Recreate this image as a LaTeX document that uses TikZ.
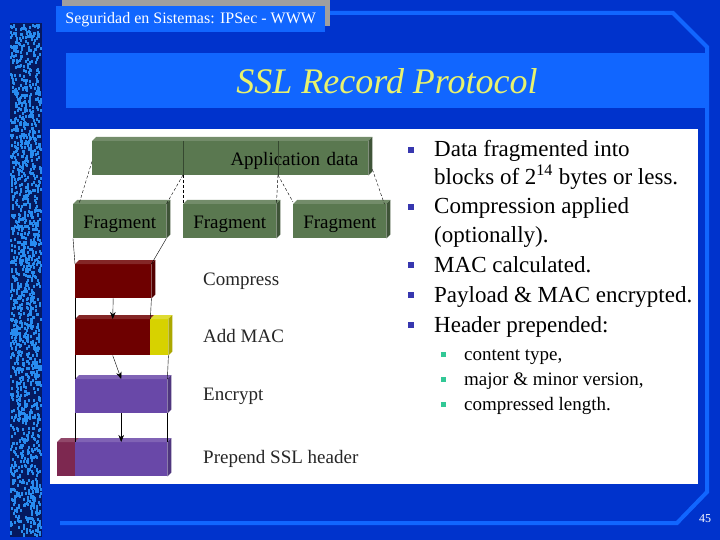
\documentclass[tikz,border=0pt]{standalone}
\usepackage{fontspec}
\setmainfont{Liberation Serif}
\usetikzlibrary{calc,arrows.meta,positioning}

\definecolor{slide}{RGB}{0,51,204}
\definecolor{band}{RGB}{17,102,255}
\definecolor{navy}{RGB}{5,25,95}
\definecolor{speck}{RGB}{40,140,240}
\definecolor{titletext}{RGB}{232,242,110}
\definecolor{fragcol}{RGB}{90,120,80}
\definecolor{compcol}{RGB}{110,0,0}
\definecolor{maccol}{RGB}{215,210,0}
\definecolor{enccol}{RGB}{105,72,168}
\definecolor{hdrcol}{RGB}{125,40,80}
\definecolor{bulletcol}{RGB}{55,55,175}
\definecolor{subcol}{RGB}{50,200,150}

% extruded faces of the 3D blocks
\newcommand{\topface}[2]{\fill[#2] (#1.north west) -- ++(4,-4) -- ($(#1.north east)+(4,-4)$) -- (#1.north east) -- cycle;}
\newcommand{\sideface}[2]{\fill[#2] (#1.north east) -- ++(4,-4) -- ($(#1.south east)+(4,-4)$) -- (#1.south east) -- cycle;}

\tikzset{
  slab/.style={fill=#1, anchor=north west, inner sep=0pt, minimum height=34pt,
    text height=15pt, text depth=0pt, font=\fontsize{19}{22}\selectfont},
  stagelabel/.style={anchor=base west, inner sep=0pt, text=black!85, font=\fontsize{19}{22}\selectfont},
  item/.style={anchor=base west, inner sep=0pt, font=\fontsize{23}{26}\selectfont},
  subitem/.style={anchor=base west, inner sep=0pt, font=\fontsize{19}{22}\selectfont},
  dotbox/.style={fill=bulletcol, inner sep=0pt, minimum size=6.5pt},
  subdotbox/.style={fill=subcol, inner sep=0pt, minimum size=5pt},
  link/.style={thin, black},
  cut/.style={thin, black, dash pattern=on 3pt off 2pt}
}

\begin{document}
\begin{tikzpicture}[x=1pt,y=-1pt,>={Stealth[length=7pt,width=5.5pt]}]
    \useasboundingbox (0,0) rectangle (720,540);
    \fill[slide] (0,0) rectangle (720,540);

    % textured strip on the left
    \fill[navy] (10,23) rectangle (42,537);
    \pgfmathsetseed{11}
    \foreach \k in {1,...,1500}{
      \pgfmathsetmacro\px{10+30*rnd}
      \pgfmathsetmacro\py{23+511*rnd}
      \fill[speck] (\px,\py) rectangle ++(2,3);
    }

    % header tab
    \fill[gray!75] (62,0) rectangle (330,26);
    \node[fill=band, anchor=north west, minimum width=269pt, minimum height=26pt, inner sep=0pt,
      text=white, font=\fontsize{16}{18}\selectfont] (head) at (56,6) {Seguridad en Sistemas: IPSec - WWW};

    % frame line
    \draw[band, line width=4pt] (330,13) -- (673,13) -- (707,47) -- (707,492) -- (677,523) -- (60,523);

    % title bar
    \fill[band] (66,53) rectangle (708,108);
    \node[text=titletext, font=\fontsize{36}{40}\selectfont\itshape] (title) at (387,81) {SSL Record Protocol};

    % white panel
    \fill[white] (50,129) rectangle (698,484);

    % blocks
    \node[slab=fragcol, minimum width=276pt, text width=256pt, align=right] (app) at (92,141) {Application data};
    \node[slab=fragcol, minimum width=93pt] (frag1) at (73,204) {Fragment};
    \node[slab=fragcol, minimum width=93pt] (frag2) at (183,204) {Fragment};
    \node[slab=fragcol, minimum width=93pt] (frag3) at (293,204) {Fragment};
    \node[slab=compcol, minimum width=76pt] (comp) at (75,264) {};
    \node[slab=compcol, minimum width=75pt, minimum height=36pt] (mac) at (75,319) {};
    \node[slab=maccol, minimum width=18pt, minimum height=36pt] (tag) at (150,319) {};
    \node[slab=enccol, minimum width=92pt] (enc) at (75,379) {};
    \node[slab=hdrcol, minimum width=18pt] (hdr) at (57,442) {};
    \node[slab=enccol, minimum width=92pt] (body) at (75,442) {};

    \topface{app}{fragcol!85!white}  \sideface{app}{fragcol!70!black}
    \topface{frag1}{fragcol!85!white}  \sideface{frag1}{fragcol!70!black}
    \topface{frag2}{fragcol!85!white}  \sideface{frag2}{fragcol!70!black}
    \topface{frag3}{fragcol!85!white}  \sideface{frag3}{fragcol!70!black}
    \topface{comp}{compcol!85!white}  \sideface{comp}{compcol!75!black}
    \topface{mac}{compcol!85!white}
    \topface{tag}{maccol!80!white}  \sideface{tag}{maccol!80!black}
    \topface{enc}{enccol!85!white}  \sideface{enc}{enccol!75!black}
    \topface{hdr}{hdrcol!85!white}
    \topface{body}{enccol!85!white}  \sideface{body}{enccol!75!black}

    \draw[fragcol!60!black, very thin] (183,141) -- (183,175) (278,141) -- (278,175);

    % fragmentation
    \coordinate (cutA) at (183,175);
    \coordinate (cutB) at (278,175);
    \draw[cut] ($(app.south west)+(0,-14)$) -- ($(frag1.north west)+(6,0)$);
    \draw[cut] (cutA) -- (frag1.north east);
    \draw[cut] (cutA) -- (frag2.north west);
    \draw[cut] (cutB) -- (frag2.north east);
    \draw[cut] (cutB) -- ($(frag3.north west)+(0,-2)$);
    \draw[cut] ($(app.south east)+(4,-6)$) -- ($(frag3.north east)+(-2,0)$);

    % processing steps
    \draw[link] (frag1.south west) -- (comp.north west);
    \draw[link] (frag1.south east) -- (comp.north east);
    \draw[link] (comp.south west) -- (mac.north west);
    \draw[link] (comp.south east) -- (mac.north east);
    \draw[link,->] (comp.south) -- (mac.north);
    \draw[link] (mac.south west) -- (enc.north west);
    \draw[link] (tag.south east) -- (enc.north east);
    \draw[link,->] (mac.south) -- (enc.north);
    \draw[link] (enc.south west) -- (body.north west);
    \draw[link] (enc.south east) -- (body.north east);
    \draw[link,->] (enc.south) -- (body.north);

    \node[stagelabel] (lcomp) at (203,285) {Compress};
    \node[stagelabel] (lmac) at (203,342) {Add MAC};
    \node[stagelabel] (lenc) at (203,400) {Encrypt};
    \node[stagelabel] (lhdr) at (203,463) {Prepend SSL header};

    % bullet list
    \node[dotbox] (m1) at (411,150) {};
    \node[item] (t1) at (434,157) {Data fragmented into};
    \node[item] (t1b) at (434,185) {blocks of 2\textsuperscript{14} bytes or less.};
    \node[dotbox] (m2) at (411,207) {};
    \node[item] (t2) at (434,214) {Compression applied};
    \node[item] (t2b) at (434,242) {(optionally).};
    \node[dotbox] (m3) at (411,265) {};
    \node[item] (t3) at (434,272) {MAC calculated.};
    \node[dotbox] (m4) at (411,295) {};
    \node[item] (t4) at (434,302) {Payload \& MAC encrypted.};
    \node[dotbox] (m5) at (411,325) {};
    \node[item] (t5) at (434,332) {Header prepended:};
    \node[subdotbox] (s1) at (443,354) {};
    \node[subitem] (u1) at (464,360) {content type,};
    \node[subdotbox] (s2) at (443,379) {};
    \node[subitem] (u2) at (464,385) {major \& minor version,};
    \node[subdotbox] (s3) at (443,404) {};
    \node[subitem] (u3) at (464,410) {compressed length.};

    \node[text=white, font=\fontsize{12}{14}\selectfont] (page) at (705,519) {45};
  \end{tikzpicture}
\end{document}
